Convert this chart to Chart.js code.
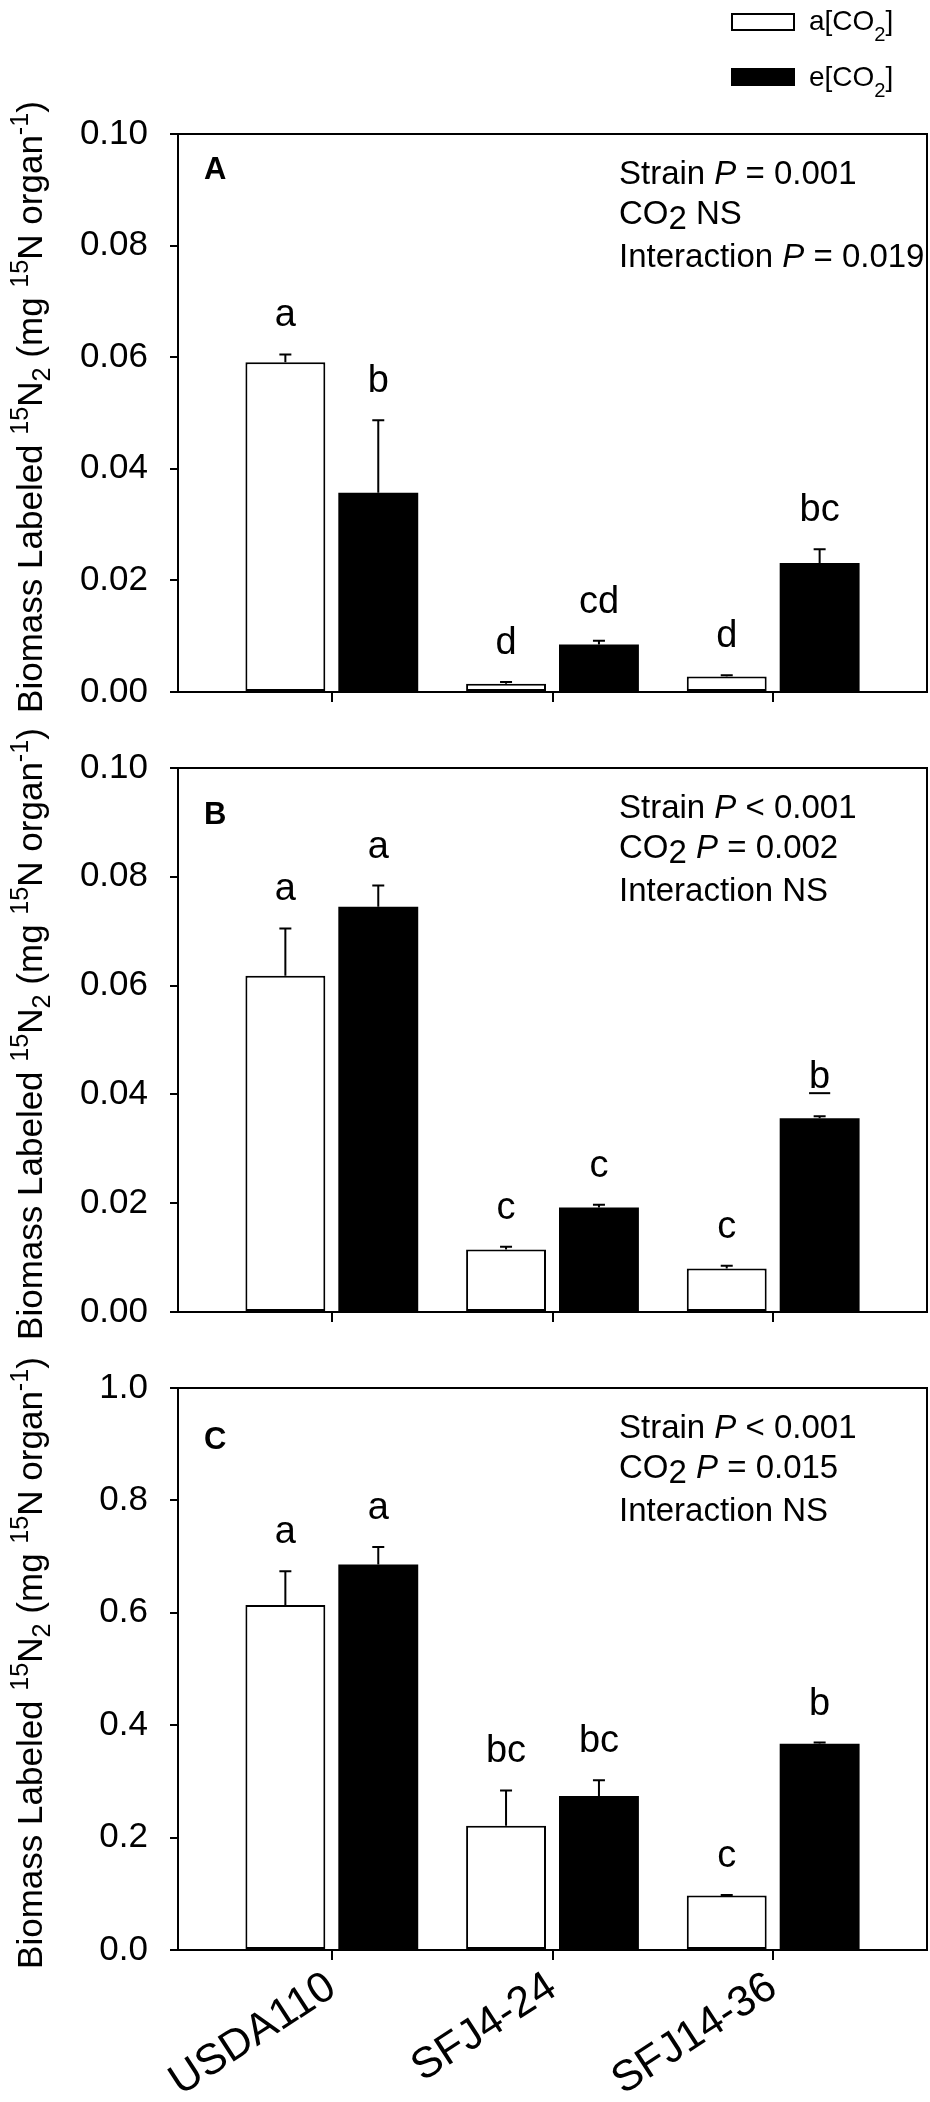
<!DOCTYPE html>
<html>
<head>
<meta charset="utf-8">
<script src="https://cdn.jsdelivr.net/npm/chart.js@4.4.1/dist/chart.umd.min.js"></script>
<style>
  html, body { margin: 0; padding: 0; background: #fff; }
  body { width: 930px; height: 2102px; position: relative; overflow: hidden; }
  canvas { position: absolute; left: 0; }
</style>
</head>
<body>
<canvas id="chartA" width="930" height="735" style="top:0px"></canvas>
<canvas id="chartB" width="930" height="630" style="top:725px"></canvas>
<canvas id="chartC" width="930" height="757" style="top:1345px"></canvas>
<script>
// Dados
const strains = ['USDA110', 'SFJ4-24', 'SFJ14-36'];
const strainPos = [0, 1, 2];

// Painel A
const ambientA = [0.0591, 0.0015, 0.0028];
const ambientErrA = [0.0014, 0.0003, 0.0002];
const elevatedA = [0.0357, 0.0085, 0.0231];
const elevatedErrA = [0.0130, 0.0007, 0.0025];
const ambientLettersA = ['a', 'd', 'd'];
const elevatedLettersA = ['b', 'cd', 'bc'];

// Painel B
const ambientB = [0.0618, 0.0115, 0.0080];
const ambientErrB = [0.0087, 0.0005, 0.0005];
const elevatedB = [0.0745, 0.0192, 0.0356];
const elevatedErrB = [0.0039, 0.0005, 0.0004];
const ambientLettersB = ['a', 'c', 'c'];
const elevatedLettersB = ['a', 'c', 'b'];
const elevatedUnderlineB = [false, false, true];

// Painel C
const ambientC = [0.614, 0.221, 0.097];
const ambientErrC = [0.060, 0.063, 0.001];
const elevatedC = [0.686, 0.274, 0.367];
const elevatedErrC = [0.031, 0.028, 0.002];
const ambientLettersC = ['a', 'bc', 'c'];
const elevatedLettersC = ['a', 'bc', 'b'];

// Eixos
const ticksAB = [0, 0.02, 0.04, 0.06, 0.08, 0.10];
const ticksC = [0, 0.2, 0.4, 0.6, 0.8, 1.0];

// Textos
const legendLabels = [[['a[CO', ''], ['2', 'lsub'], [']', '']], [['e[CO', ''], ['2', 'lsub'], [']', '']]];
const yTitle = [['Biomass Labeled ', ''], ['15', 'sup'], ['N', ''], ['2', 'tsub'], [' (mg ', ''], ['15', 'sup'], ['N organ', ''], ['-1', 'sup'], [')', '']];
const statsA = [
  [['Strain ', ''], ['P', 'i'], [' = 0.001', '']],
  [['CO', ''], ['2', 'sub'], [' NS', '']],
  [['Interaction ', ''], ['P', 'i'], [' = 0.019', '']]
];
const statsB = [
  [['Strain ', ''], ['P', 'i'], [' < 0.001', '']],
  [['CO', ''], ['2', 'sub'], [' ', ''], ['P', 'i'], [' = 0.002', '']],
  [['Interaction NS', '']]
];
const statsC = [
  [['Strain ', ''], ['P', 'i'], [' < 0.001', '']],
  [['CO', ''], ['2', 'sub'], [' ', ''], ['P', 'i'], [' = 0.015', '']],
  [['Interaction NS', '']]
];

const FONT = '"Liberation Sans", Arial, Helvetica, sans-serif';

// Desenha uma linha de texto com itálico / índices
function drawRuns(ctx, runs, x, y, size, measureOnly) {
  let cx = x;
  runs.forEach(([text, kind]) => {
    let s = size, dy = 0, style = '';
    if (kind === 'i') style = 'italic ';
    if (kind === 'sub') dy = size * 0.14;
    if (kind === 'lsub') { s = size * 0.72; dy = size * 0.4; }
    if (kind === 'tsub') { s = size * 0.72; dy = size * 0.22; }
    if (kind === 'sup') { s = size * 0.72; dy = -size * 0.4; }
    ctx.font = style + s + 'px ' + FONT;
    if (!measureOnly) ctx.fillText(text, cx, y + dy);
    cx += ctx.measureText(text).width;
  });
  return cx - x;
}

const decoPlugin = {
  id: 'deco',
  afterDatasetsDraw(chart, args, opts) {
    const ctx = chart.ctx;
    const yScale = chart.scales.y;
    ctx.save();
    ctx.strokeStyle = '#000';
    ctx.fillStyle = '#000';
    ctx.lineWidth = 2;
    chart.data.datasets.forEach((ds, di) => {
      const meta = chart.getDatasetMeta(di);
      meta.data.forEach((bar, i) => {
        const top = yScale.getPixelForValue(ds.data[i].y + ds.errors[i]);
        ctx.beginPath();
        ctx.moveTo(bar.x, bar.y);
        ctx.lineTo(bar.x, top);
        ctx.moveTo(bar.x - 6, top);
        ctx.lineTo(bar.x + 6, top);
        ctx.stroke();
        // letras de significância
        ctx.font = '38px ' + FONT;
        ctx.textAlign = 'center';
        ctx.textBaseline = 'alphabetic';
        const ly = top - 28;
        ctx.fillText(ds.letters[i], bar.x, ly);
        if (ds.underline && ds.underline[i]) {
          const w = ctx.measureText(ds.letters[i]).width;
          ctx.fillRect(bar.x - w / 2, ly + 4, w, 2);
        }
      });
    });
    ctx.restore();
  },
  afterDraw(chart, args, opts) {
    const ctx = chart.ctx;
    const area = chart.chartArea;
    ctx.save();
    ctx.strokeStyle = '#000';
    ctx.fillStyle = '#000';
    ctx.lineWidth = 2;
    // moldura (topo e direita)
    ctx.beginPath();
    ctx.moveTo(area.left - 8, area.top);
    ctx.lineTo(area.right, area.top);
    ctx.lineTo(area.right, area.bottom);
    ctx.stroke();

    ctx.textAlign = 'left';
    ctx.textBaseline = 'alphabetic';
    // letra do painel
    ctx.font = 'bold 31px ' + FONT;
    ctx.fillText(opts.panel, 204, area.top + opts.panelDy);

    // estatísticas
    const offs = [50, 90, 133];
    opts.stats.forEach((line, k) => drawRuns(ctx, line, 619, area.top + offs[k], 33));

    // título do eixo y
    const tSize = 35;
    const tw = drawRuns(ctx, yTitle, 0, 0, tSize, true);
    ctx.save();
    ctx.translate(42, (area.top + area.bottom) / 2 - 6);
    ctx.rotate(-Math.PI / 2);
    drawRuns(ctx, yTitle, -tw / 2, 0, tSize);
    ctx.restore();

    // legenda
    if (opts.legend) {
      ctx.fillStyle = '#fff';
      ctx.fillRect(732, 14, 62, 16);
      ctx.strokeRect(732, 14, 62, 16);
      ctx.fillStyle = '#000';
      ctx.fillRect(731, 68, 64, 18);
      drawRuns(ctx, legendLabels[0], 809, 30, 28);
      drawRuns(ctx, legendLabels[1], 809, 86, 28);
    }
    ctx.restore();
  }
};

function makeChart(id, cfg) {
  return new Chart(document.getElementById(id), {
    type: 'bar',
    data: {
      datasets: [
        {
          label: 'a[CO2]',
          data: strainPos.map((x, i) => ({ x: x, y: cfg.ambient[i] })),
          errors: cfg.ambientErr,
          letters: cfg.ambientLetters,
          backgroundColor: '#fff',
          borderColor: '#000',
          borderWidth: 2,
          borderSkipped: false,
          categoryPercentage: 0.842,
          barPercentage: 0.86
        },
        {
          label: 'e[CO2]',
          data: strainPos.map((x, i) => ({ x: x, y: cfg.elevated[i] })),
          errors: cfg.elevatedErr,
          letters: cfg.elevatedLetters,
          underline: cfg.underline,
          backgroundColor: '#000',
          borderColor: '#000',
          borderWidth: 0,
          categoryPercentage: 0.842,
          barPercentage: 0.86
        }
      ]
    },
    options: {
      responsive: false,
      animation: false,
      layout: { padding: { top: cfg.padTop, right: 3, left: 0, bottom: 0 } },
      scales: {
        x: {
          type: 'linear',
          min: -0.697,
          max: 2.697,
          offset: false,
          z: 1,
          afterBuildTicks: s => { s.ticks = strainPos.map(v => ({ value: v })); },
          afterFit: s => { s.height = cfg.xHeight; },
          grid: { offset: false, drawOnChartArea: false, drawTicks: true, tickLength: 10, color: '#000', lineWidth: 2 },
          border: { color: '#000', width: 2 },
          ticks: {
            display: cfg.showLabels,
            autoSkip: false,
            minRotation: 33,
            maxRotation: 33,
            padding: 2,
            color: '#000',
            font: { size: 43, family: FONT },
            callback: v => strains[v]
          }
        },
        y: {
          min: 0,
          max: cfg.max,
          z: 1,
          afterBuildTicks: s => { s.ticks = cfg.ticks.map(v => ({ value: v })); },
          afterFit: s => { s.width = 178; },
          grid: { drawOnChartArea: false, drawTicks: true, tickLength: 8, color: '#000', lineWidth: 2 },
          border: { color: '#000', width: 2 },
          ticks: {
            padding: 22,
            color: '#000',
            font: { size: 35, family: FONT },
            callback: v => v.toFixed(cfg.decimals)
          }
        }
      },
      plugins: {
        legend: { display: false },
        tooltip: { enabled: false },
        deco: { panel: cfg.panel, panelDy: cfg.panelDy, stats: cfg.stats, legend: cfg.legend }
      }
    },
    plugins: [decoPlugin]
  });
}

makeChart('chartA', {
  ambient: ambientA, ambientErr: ambientErrA, ambientLetters: ambientLettersA,
  elevated: elevatedA, elevatedErr: elevatedErrA, elevatedLetters: elevatedLettersA,
  max: 0.1, ticks: ticksAB, decimals: 2, padTop: 134, xHeight: 27, showLabels: false,
  panel: 'A', panelDy: 45, stats: statsA, legend: true
});
makeChart('chartB', {
  ambient: ambientB, ambientErr: ambientErrB, ambientLetters: ambientLettersB,
  elevated: elevatedB, elevatedErr: elevatedErrB, elevatedLetters: elevatedLettersB,
  underline: elevatedUnderlineB,
  max: 0.1, ticks: ticksAB, decimals: 2, padTop: 30, xHeight: 27, showLabels: false,
  panel: 'B', panelDy: 56, stats: statsB, legend: false
});
makeChart('chartC', {
  ambient: ambientC, ambientErr: ambientErrC, ambientLetters: ambientLettersC,
  elevated: elevatedC, elevatedErr: elevatedErrC, elevatedLetters: elevatedLettersC,
  max: 1.0, ticks: ticksC, decimals: 1, padTop: 31, xHeight: 152, showLabels: true,
  panel: 'C', panelDy: 61, stats: statsC, legend: false
});
</script>
</body>
</html>
